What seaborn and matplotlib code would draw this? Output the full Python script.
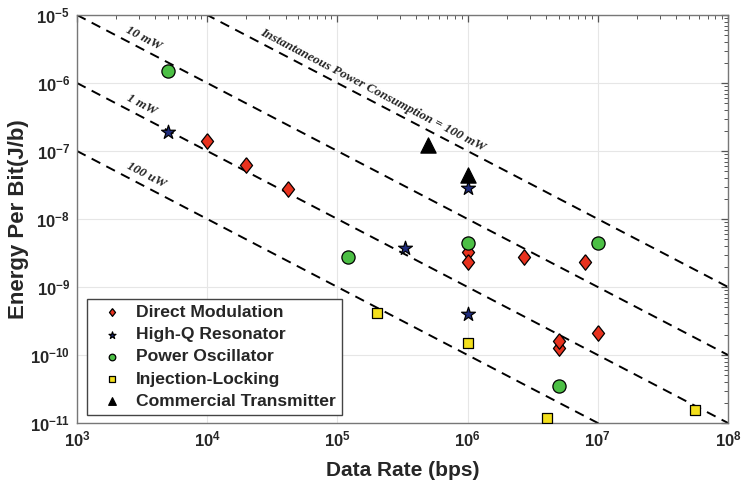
import numpy as np
import pandas as pd
import matplotlib
matplotlib.use("Agg")
import matplotlib.pyplot as plt
from matplotlib.ticker import LogLocator, FuncFormatter, NullFormatter
import seaborn as sns

# Data rate (bps) and energy per bit (J/b) for each transmitter architecture
dm_rate = [1e4, 2e4, 4.2e4, 1e6, 1e6, 2.7e6, 8e6, 5e6, 5e6, 1e7]
dm_energy = [1.4e-7, 6.3e-8, 2.8e-8, 3.3e-9, 2.35e-9, 2.8e-9, 2.3e-9, 1.27e-10, 1.58e-10, 2.1e-10]

hq_rate = [5e3, 3.3e5, 1e6, 1e6]
hq_energy = [1.9e-7, 3.8e-9, 2.9e-8, 4.0e-10]

po_rate = [5e3, 1.2e5, 1e6, 1e7, 5e6]
po_energy = [1.5e-6, 2.8e-9, 4.4e-9, 4.5e-9, 3.5e-11]

il_rate = [2e5, 1e6, 4.05e6, 5.6e7]
il_energy = [4.2e-10, 1.5e-10, 1.17e-11, 1.55e-11]

ct_rate = [5e5, 1e6]
ct_energy = [1.23e-7, 4.4e-8]

# Constant-power reference lines (W), their labels and where the labels sit
power_levels = [1e-4, 1e-3, 1e-2, 1e-1]
power_labels = ["100 uW", "1 mW", "10 mW", "Instantaneous Power Consumption = 100 mW"]
label_rates = [3.1e3, 2.9e3, 3.0e3, 1.72e5]
rate_span = [1e3, 1e8]

x_ticks = [1e3, 1e4, 1e5, 1e6, 1e7, 1e8]
y_ticks = [1e-11, 1e-10, 1e-9, 1e-8, 1e-7, 1e-6, 1e-5]

sns.set_style("white")
plt.rcParams["font.family"] = ["Liberation Sans", "DejaVu Sans"]
plt.rcParams["mathtext.fontset"] = "custom"
plt.rcParams["mathtext.bf"] = "Liberation Sans:bold"
plt.rcParams["mathtext.rm"] = "Liberation Sans:bold"

fig = plt.figure(figsize=(7.43, 4.83), dpi=100)
ax = fig.add_axes([77 / 743, 1 - 423 / 483, 651 / 743, 408 / 483])
ax.set_xscale("log")
ax.set_yscale("log")
ax.set_xlim(x_ticks[0], x_ticks[-1])
ax.set_ylim(y_ticks[0], y_ticks[-1])

# Reference lines of constant power: E = P / R
for p in power_levels:
    line_df = pd.DataFrame({"rate": rate_span, "energy": [p / r for r in rate_span]})
    sns.lineplot(data=line_df, x="rate", y="energy", ax=ax, color="black",
                 linewidth=1.4, linestyle=(0, (5, 3.5)), zorder=2, legend=False)

series = [
    ("Direct Modulation", dm_rate, dm_energy, "#e8321e",
     [(0, 1), (0.78, 0), (0, -1), (-0.78, 0), (0, 1)], 125),
    ("High-Q Resonator", hq_rate, hq_energy, "#1f2c7c", "*", 110),
    ("Power Oscillator", po_rate, po_energy, "#4cbf45", "o", 90),
    ("Injection-Locking", il_rate, il_energy, "#f3df1c", "s", 60),
    ("Commercial Transmitter", ct_rate, ct_energy, "black", "^", 120),
]
for name, rate, energy, color, marker, size in series:
    df = pd.DataFrame({"rate": rate, "energy": energy})
    sns.scatterplot(data=df, x="rate", y="energy", ax=ax, color=color, marker=marker,
                    s=size, edgecolor="black", linewidth=0.9, label=name, zorder=3)

# Line labels, rotated along each line and nudged above it
fig.canvas.draw()
for p, text, r in zip(power_levels, power_labels, label_rates):
    a = ax.transData.transform((rate_span[0], p / rate_span[0]))
    b = ax.transData.transform((rate_span[1], p / rate_span[1]))
    ang = np.degrees(np.arctan2(b[1] - a[1], b[0] - a[0]))
    nx, ny = -np.sin(np.radians(ang)), np.cos(np.radians(ang))
    ax.annotate(text, xy=(r, p / r), xytext=(7.5 * nx, 7.5 * ny), textcoords="offset points",
                ha="center", va="center", rotation=ang, rotation_mode="anchor",
                family=["Liberation Serif", "DejaVu Serif"], fontweight="bold",
                fontstyle="italic", fontsize=9.5, zorder=4)

# Axes, ticks and grid
fmt = FuncFormatter(lambda v, pos: r"$\mathbf{10^{%d}}$" % int(round(np.log10(v))))
ax.xaxis.set_major_locator(LogLocator(base=10, numticks=20))
ax.yaxis.set_major_locator(LogLocator(base=10, numticks=20))
ax.xaxis.set_minor_locator(LogLocator(base=10, subs=np.arange(2, 10), numticks=100))
ax.yaxis.set_minor_locator(LogLocator(base=10, subs=np.arange(2, 10), numticks=100))
ax.xaxis.set_major_formatter(fmt)
ax.yaxis.set_major_formatter(fmt)
ax.xaxis.set_minor_formatter(NullFormatter())
ax.yaxis.set_minor_formatter(NullFormatter())
ax.tick_params(which="both", direction="in", top=True, right=True, color="#555555")
ax.tick_params(which="major", length=5, width=0.9, labelsize=12, pad=5)
ax.tick_params(which="minor", length=3, width=0.7)
ax.grid(True, which="major", color="#e6e6e6", linewidth=0.8)
ax.set_axisbelow(True)
for sp in ax.spines.values():
    sp.set_color("#777777")
    sp.set_linewidth(1.0)

ax.set_xlabel("Data Rate (bps)", fontsize=15, fontweight="bold", labelpad=8)
ax.set_ylabel("Energy Per Bit(J/b)", fontsize=16, fontweight="bold", labelpad=1)

leg = ax.legend(loc="lower left", bbox_to_anchor=(10 / 651, 8 / 408), borderaxespad=0,
                frameon=True, fancybox=False, framealpha=1, edgecolor="#444444",
                prop={"weight": "bold", "size": 12.6}, markerscale=0.5,
                borderpad=0.35, handlelength=2.2, handletextpad=0.25, labelspacing=0.4)
leg.get_frame().set_linewidth(1.0)

fig.savefig("out.png", dpi=100)
